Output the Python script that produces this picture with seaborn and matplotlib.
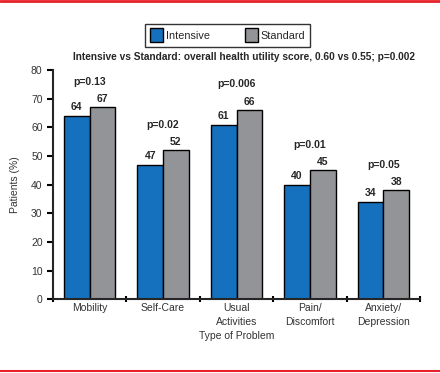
import pandas as pd
import matplotlib.pyplot as plt
import seaborn as sns
from matplotlib.lines import Line2D

# data
problems = ['Mobility', 'Self-Care', 'Usual\nActivities', 'Pain/\nDiscomfort', 'Anxiety/\nDepression']
intensive = [64, 47, 61, 40, 34]
standard = [67, 52, 66, 45, 38]
pvalues = ['p=0.13', 'p=0.02', 'p=0.006', 'p=0.01', 'p=0.05']

df = pd.DataFrame({
    'problem': problems * 2,
    'pct': intensive + standard,
    'group': ['Intensive'] * 5 + ['Standard'] * 5,
})

sns.set_style('ticks')
plt.rcParams['font.family'] = ['Liberation Sans', 'DejaVu Sans']

fig = plt.figure(figsize=(4.4, 3.73), dpi=100)
ax = fig.add_axes([0.1205, 0.198, 0.834, 0.614])

sns.barplot(data=df, x='problem', y='pct', hue='group', order=problems,
            palette={'Intensive': '#1570be', 'Standard': '#939498'},
            edgecolor='black', linewidth=1.0, width=0.7, saturation=1, ax=ax)

# value labels and p-values
for i in range(len(problems)):
    ax.text(i - 0.175, intensive[i] + 1.2, str(intensive[i]), ha='center', va='bottom',
            fontsize=7.5, fontweight='bold')
    ax.text(i + 0.175, standard[i] + 1.2, str(standard[i]), ha='center', va='bottom',
            fontsize=7.5, fontweight='bold')
    top = max(intensive[i], standard[i])
    ax.text(i, top + 9, pvalues[i], ha='center', va='center', fontsize=7.5, fontweight='bold')

ax.set_xlim(-0.5, 4.5)
ax.set_ylim(0, 80)
ax.set_yticks(range(0, 81, 10))
ax.set_xticks([x - 0.5 for x in range(6)], minor=True)
ax.tick_params(axis='x', which='major', length=0, labelsize=7.5, pad=3, colors='#333333')
ax.tick_params(axis='x', which='minor', length=5, width=1.5, direction='inout', color='black')
ax.tick_params(axis='y', length=4, width=1.5, labelsize=7.5, colors='#333333')
ax.tick_params(axis='both', color='black')
for lbl in ax.get_xticklabels():
    lbl.set_linespacing(1.45)
for s in ['left', 'bottom']:
    ax.spines[s].set_linewidth(1.5)
sns.despine(ax=ax)

ax.set_xlabel('Type of Problem', fontsize=7.5, color='#333333', labelpad=3)
ax.set_ylabel('Patients (%)', fontsize=7.5, color='#333333', labelpad=8)

leg = ax.legend(loc='center', ncol=2, fontsize=7.8, frameon=True, fancybox=False,
                edgecolor='black', handlelength=1.25, handleheight=1.5, columnspacing=3.2,
                handletextpad=0.25, borderpad=0.45)
leg.set_bbox_to_anchor((0.517, 0.906), transform=fig.transFigure)
leg.get_frame().set_linewidth(1.0)

fig.text(0.555, 0.848, 'Intensive vs Standard: overall health utility score, 0.60 vs 0.55; p=0.002',
         ha='center', va='center', fontsize=7.3, fontweight='bold')

# red rules at top and bottom
fig.add_artist(Line2D([0, 1], [0.998, 0.998], color='#e8202a', linewidth=2, transform=fig.transFigure))
fig.add_artist(Line2D([0, 1], [0.006, 0.006], color='#e8202a', linewidth=1.5, transform=fig.transFigure))

fig.savefig('out.png', dpi=100)
